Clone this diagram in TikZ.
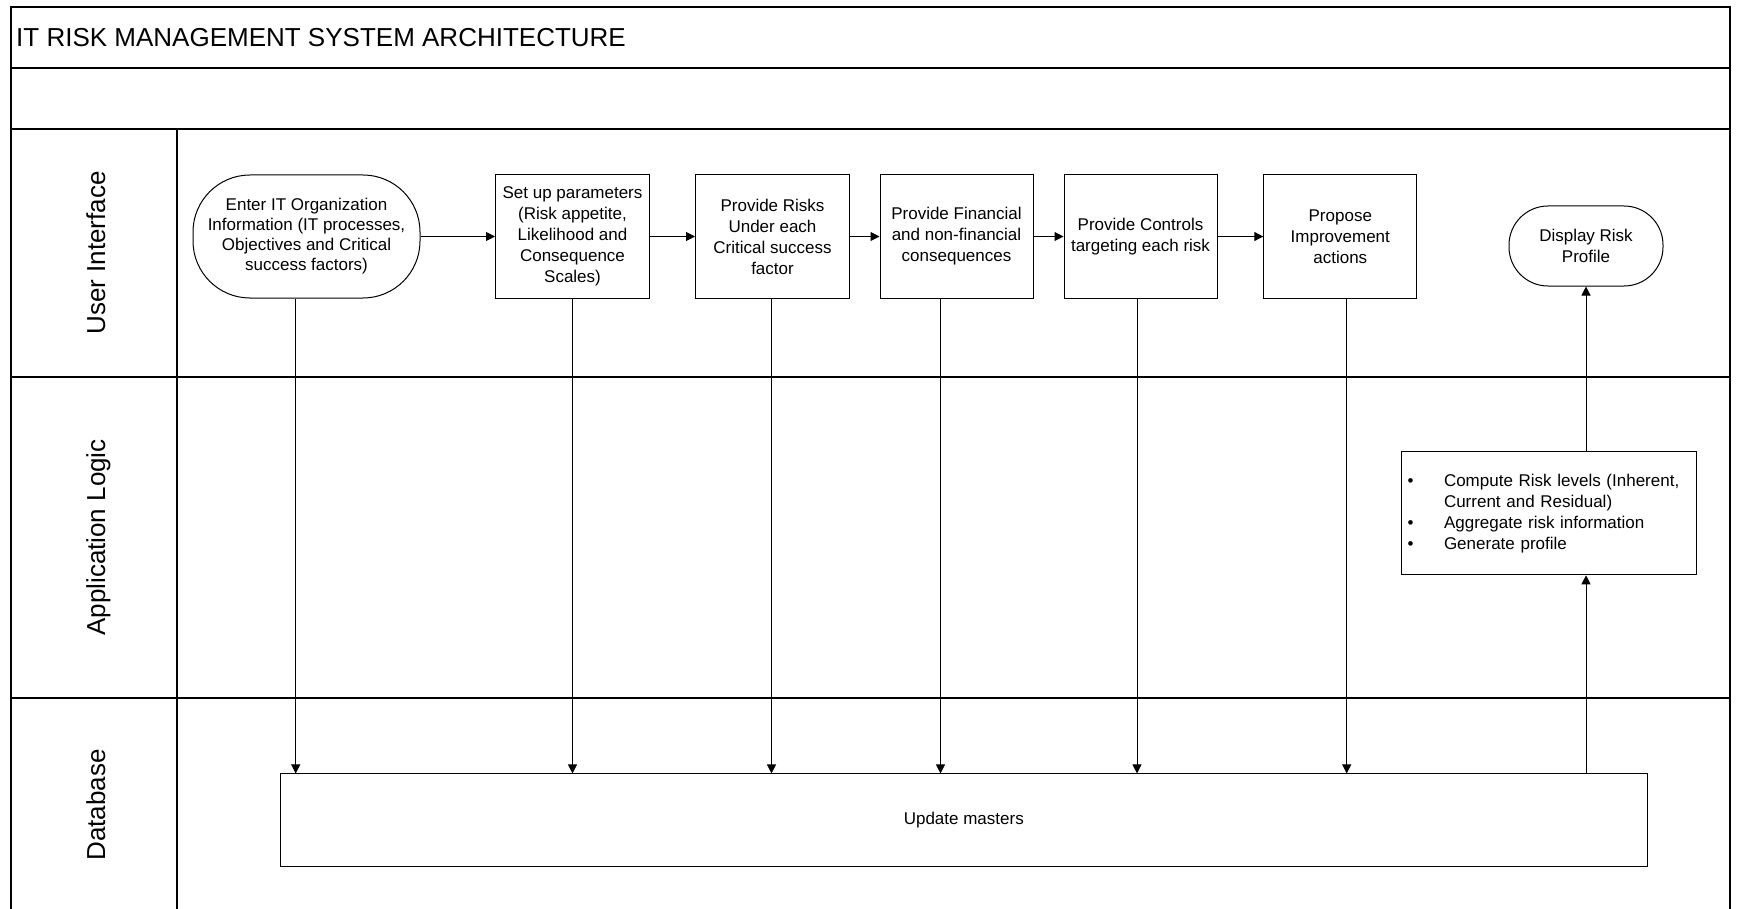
\documentclass[tikz,border=0pt]{standalone}
\usepackage{fontspec}
\setmainfont{Liberation Sans}
\usetikzlibrary{arrows.meta}
\newcommand\boxfont{\fontsize{17}{21}\selectfont}
\newcommand\bigfont{\fontsize{26}{30}\selectfont}
\begin{document}
\begin{tikzpicture}[x=1pt,y=-1pt,
  frame/.style={line width=1.3pt},
  stepbox/.style={draw, line width=1pt, minimum width=154pt, minimum height=123pt,
                  inner sep=0pt, align=center, font=\boxfont},
  term/.style={stepbox, rounded corners=57pt, font=\fontsize{17}{20}\selectfont},
  arr/.style={line width=1pt, -{Triangle[length=9pt,width=9pt]}},
  lane/.style={rotate=90, anchor=base, font=\bigfont, inner sep=0pt}
]
\useasboundingbox (0,0) rectangle (1739,909);

% swimlane frame
\draw[frame] (11,909) -- (11,7) -- (1730,7) -- (1730,909);
\draw[frame] (11,68) -- (1730,68);
\draw[frame] (11,129) -- (1730,129);
\draw[frame] (11,377) -- (1730,377);
\draw[frame] (11,698) -- (1730,698);
\draw[frame] (177,129) -- (177,909);

\node[anchor=base west, inner sep=0pt, font=\bigfont] (title) at (16,47)
  {IT RISK MANAGEMENT SYSTEM ARCHITECTURE};

\node[lane] (ui)  at (105,253)   {User Interface};
\node[lane] (app) at (105,537.5) {Application Logic};
\node[lane] (db)  at (105,805)   {Database};

% user interface steps
\node[term, minimum width=227pt] (enter) at (306.5,236.5)
  {Enter IT Organization\\Information (IT processes,\\Objectives and Critical\\success factors)};
\node[stepbox] (setup) at (572.5,236.5)
  {Set up parameters\\(Risk appetite,\\Likelihood and\\Consequence\\Scales)};
\node[stepbox] (risks) at (772.5,236.5)
  {Provide Risks\\Under each\\Critical success\\factor};
\node[stepbox, minimum width=153pt] (fin) at (956.5,236.5)
  {Provide Financial\\and non-financial\\consequences};
\node[stepbox, minimum width=153pt] (ctrl) at (1140.5,236.5)
  {Provide Controls\\targeting each risk};
\node[stepbox, minimum width=153pt] (prop) at (1340.3,236.5)
  {Propose\\Improvement\\actions};
\node[stepbox, rounded corners=39pt, minimum height=80pt] (disp) at (1586,246)
  {Display Risk\\Profile};

% application logic
\node[draw, line width=1pt, minimum height=123pt, text width=283pt,
      inner xsep=6pt, inner ysep=0pt, align=left, font=\boxfont] (comp) at (1549.2,513.3)
  {\makebox[36.3pt][l]{\textbullet}Compute Risk levels (Inherent,\\
   \hspace*{36.3pt}Current and Residual)\\
   \makebox[36.3pt][l]{\textbullet}Aggregate risk information\\
   \makebox[36.3pt][l]{\textbullet}Generate profile};

% database
\node[draw, line width=1pt, minimum width=1367.6pt, minimum height=92.7pt,
      inner sep=0pt, font=\boxfont] (upd) at (963.8,820.3) {Update masters};

% flow between the steps
\draw[arr] (enter) -- (setup);
\draw[arr] (setup) -- (risks);
\draw[arr] (risks) -- (fin);
\draw[arr] (fin) -- (ctrl);
\draw[arr] (ctrl) -- (prop);

% each step updates the masters
\coordinate (d1) at ([xshift=-10.8pt]enter.south);
\coordinate (d2) at (setup.south);
\coordinate (d3) at ([xshift=-1pt]risks.south);
\coordinate (d4) at ([xshift=-16pt]fin.south);
\coordinate (d5) at ([xshift=-3.5pt]ctrl.south);
\coordinate (d6) at ([xshift=6.4pt]prop.south);
\foreach \c in {d1,d2,d3,d4,d5,d6}
  \draw[arr] (\c) -- (\c |- upd.north);

% masters feed the risk profile
\draw[arr] (upd.north -| disp) -- (comp.south -| disp);
\draw[arr] (comp.north -| disp) -- (disp.south);
\end{tikzpicture}
\end{document}
